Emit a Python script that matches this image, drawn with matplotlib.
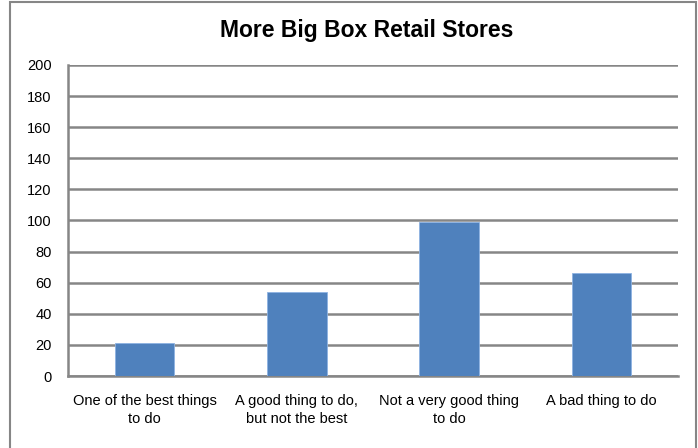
import matplotlib.pyplot as plt
from matplotlib.patches import Rectangle

categories = ["One of the best things\nto do", "A good thing to do,\nbut not the best",
              "Not a very good thing\nto do", "A bad thing to do"]
values = [21, 54, 99, 66]
yticks = [0, 20, 40, 60, 80, 100, 120, 140, 160, 180, 200]

plt.rcParams['font.family'] = ['Liberation Sans', 'DejaVu Sans']

fig = plt.figure(figsize=(6.98, 4.48), dpi=100)
W, H = 698, 448

# outer chart border
fig.patches.append(Rectangle((10 / W, -0.05), (695.5 - 10) / W, 1.05 - 2 / H,
                             transform=fig.transFigure, fill=False,
                             edgecolor='#868686', linewidth=1.5))

ax = fig.add_axes([68.3 / W, 1 - 376 / H, (677.7 - 68.3) / W, (376 - 65) / H])
x = range(len(categories))
ax.bar(x, values, width=0.39, color='#4F81BD', edgecolor='#8DB3E2', linewidth=0.6, zorder=3)

ax.set_xlim(-0.5, len(categories) - 0.5)
ax.set_ylim(0, 200)
ax.set_yticks(yticks)
ax.set_xticks(list(x))
ax.set_xticklabels(categories, fontsize=10.5, linespacing=1.4)
ax.tick_params(axis='both', length=0, labelsize=10.5, colors='black')
ax.tick_params(axis='x', pad=13)
ax.tick_params(axis='y', pad=12)
ax.grid(axis='y', color='#868686', linewidth=1.8, zorder=0)

for side in ['top', 'right']:
    ax.spines[side].set_visible(False)
for side in ['left', 'bottom']:
    ax.spines[side].set_color('#868686')
    ax.spines[side].set_linewidth(1.8)

fig.text(367 / W, 1 - 31 / H, "More Big Box Retail Stores", ha='center', va='center',
         fontsize=16.5, fontweight='bold')

fig.savefig('out.png', dpi=100)
